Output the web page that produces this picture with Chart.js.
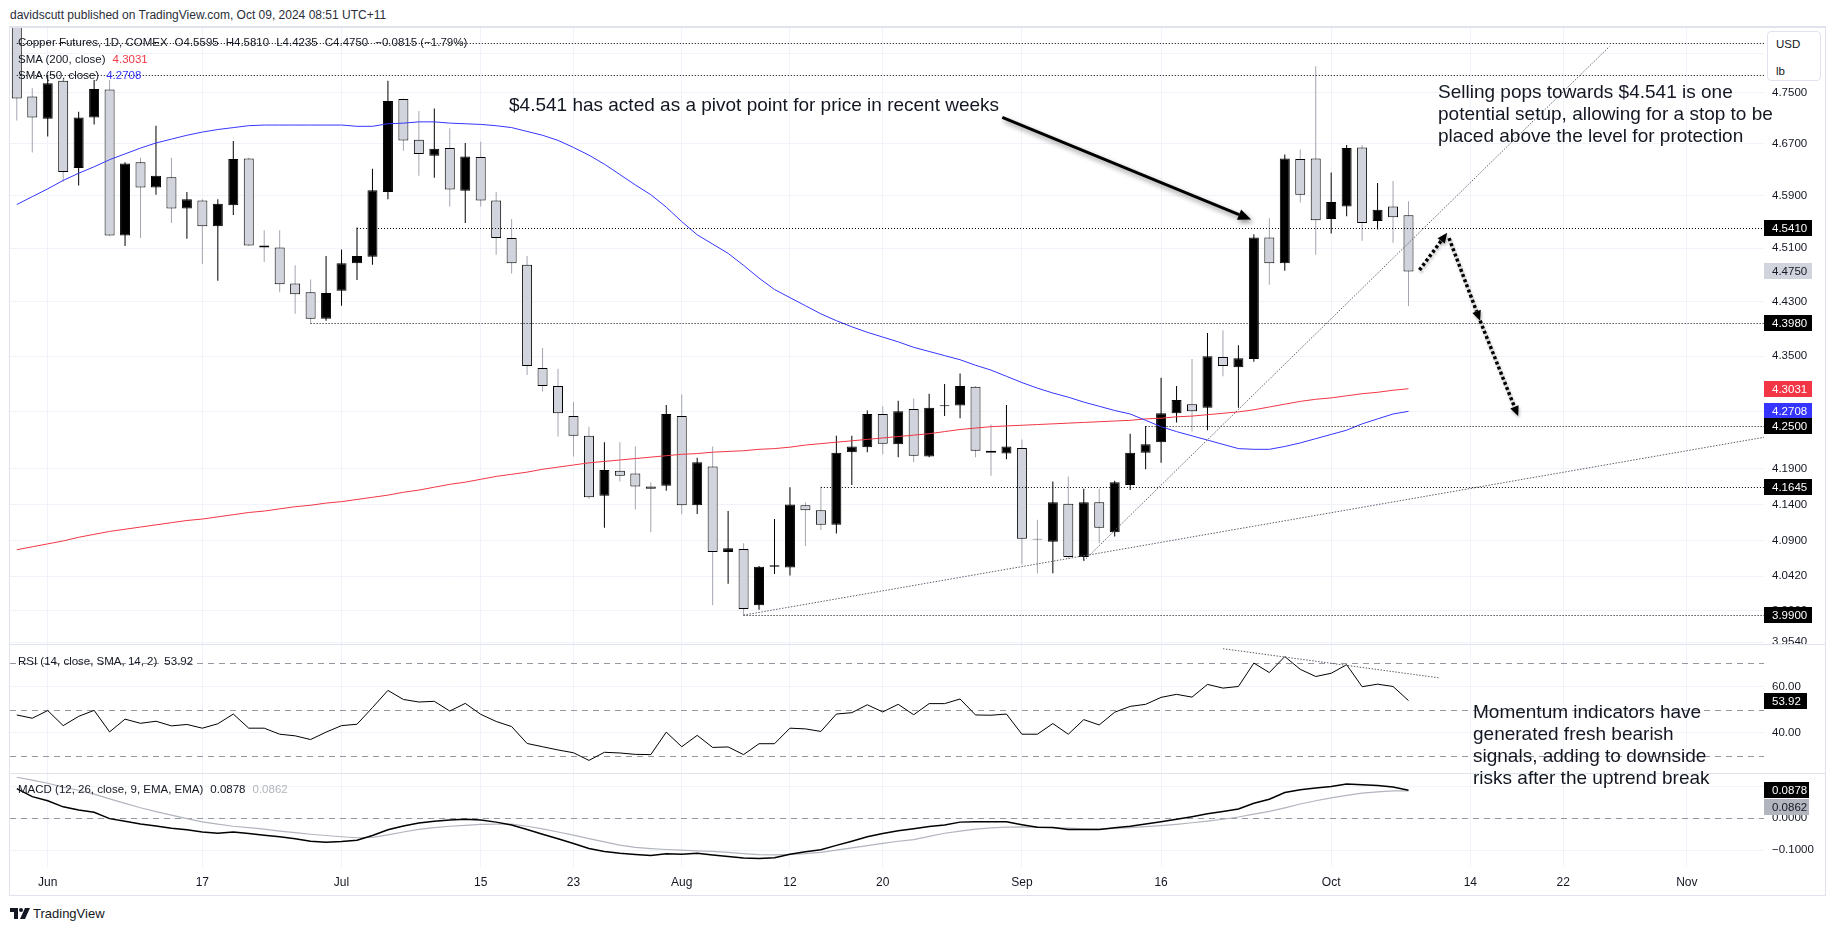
<!DOCTYPE html>
<html>
<head>
<meta charset="utf-8">
<title>Copper Futures, 1D, COMEX</title>
<script src="https://cdn.jsdelivr.net/npm/chart.js"></script>
<style>
  html, body { margin:0; padding:0; background:#ffffff; }
  body { width:1835px; height:931px; position:relative; overflow:hidden;
         font-family:'Liberation Sans', Arial, Helvetica, sans-serif; color:#131722; }
  .abs { position:absolute; white-space:nowrap; }
  canvas { position:absolute; }
  .sep { position:absolute; left:10px; width:1815px; height:1px; background:#e0e3eb; }
  .legend { font-size:11.5px; line-height:16px; color:#131722; }
  .legend .v { margin-left:7px; }
  .note { font-size:19px; line-height:22px; color:#131722; }
</style>
</head>
<body>
<div class="abs" style="left:10px;top:7px;font-size:12px;line-height:16px;color:#2a2e39">davidscutt published on TradingView.com, Oct 09, 2024 08:51 UTC+11</div>
<div style="position:absolute;left:9px;top:26px;width:1815px;height:867px;border:1px solid #e0e3eb;border-top-width:2px;"></div>

<canvas id="cMain" width="1815" height="616" style="left:10px;top:28px"></canvas>
<div class="sep" style="top:644px"></div>
<canvas id="cRsi" width="1815" height="128" style="left:10px;top:645px"></canvas>
<div class="sep" style="top:773px"></div>
<canvas id="cMacd" width="1815" height="121" style="left:10px;top:774px"></canvas>

<div id="lgMain" class="abs legend" style="left:18px;top:34px"></div>
<div id="lgS200" class="abs legend" style="left:18px;top:51px"></div>
<div id="lgS50" class="abs legend" style="left:18px;top:67px"></div>
<div id="lgRsi" class="abs legend" style="left:18px;top:653px"></div>
<div id="lgMacd" class="abs legend" style="left:18px;top:781px"></div>

<div class="abs note" style="left:509px;top:94px">$4.541 has acted as a pivot point for price in recent weeks</div>
<div class="abs note" style="left:1438px;top:81px">Selling pops towards $4.541 is one<br>potential setup, allowing for a stop to be<br>placed above the level for protection</div>
<div class="abs note" style="left:1473px;top:701px">Momentum indicators have<br>generated fresh bearish<br>signals, adding to downside<br>risks after the uptrend break</div>

<div style="position:absolute;left:1767px;top:31px;width:52px;height:48px;border:1px solid #e0e3eb;border-radius:4px;background:#fff;font-size:11.5px;color:#131722;">
  <div class="abs" style="left:8px;top:4px;line-height:16px">USD</div>
  <div class="abs" style="left:8px;top:31px;line-height:16px">lb</div>
</div>

<div class="abs" style="left:10px;top:905px;height:16px;display:flex;align-items:center;font-size:13px;color:#131722">
  <svg width="20" height="11" viewBox="0 0 20 11" style="margin-right:3px">
    <path d="M0 0 H8 V11 H4 V4 H0 Z" fill="#131722"/>
    <circle cx="11" cy="2" r="2" fill="#131722"/>
    <path d="M15 0 H20 L15 11 H10 Z" fill="#131722"/>
  </svg><span>TradingView</span>
</div>

<script>
const FONT = "'Liberation Sans', Arial, Helvetica, sans-serif";

// ---- categories (trading sessions) ----
const dates = [
 '2024-05-30','2024-05-31','2024-06-03','2024-06-04','2024-06-05','2024-06-06','2024-06-07',
 '2024-06-10','2024-06-11','2024-06-12','2024-06-13','2024-06-14','2024-06-17','2024-06-18',
 '2024-06-20','2024-06-21','2024-06-24','2024-06-25','2024-06-26','2024-06-27','2024-06-28',
 '2024-07-01','2024-07-02','2024-07-03','2024-07-05','2024-07-08','2024-07-09','2024-07-10',
 '2024-07-11','2024-07-12','2024-07-15','2024-07-16','2024-07-17','2024-07-18','2024-07-19',
 '2024-07-22','2024-07-23','2024-07-24','2024-07-25','2024-07-26','2024-07-29','2024-07-30',
 '2024-07-31','2024-08-01','2024-08-02','2024-08-05','2024-08-06','2024-08-07','2024-08-08',
 '2024-08-09','2024-08-12','2024-08-13','2024-08-14','2024-08-15','2024-08-16','2024-08-19',
 '2024-08-20','2024-08-21','2024-08-22','2024-08-23','2024-08-26','2024-08-27','2024-08-28',
 '2024-08-29','2024-08-30','2024-09-03','2024-09-04','2024-09-05','2024-09-06','2024-09-09',
 '2024-09-10','2024-09-11','2024-09-12','2024-09-13','2024-09-16','2024-09-17','2024-09-18',
 '2024-09-19','2024-09-20','2024-09-23','2024-09-24','2024-09-25','2024-09-26','2024-09-27',
 '2024-09-30','2024-10-01','2024-10-02','2024-10-03','2024-10-04','2024-10-07','2024-10-08'
];

// ---- OHLC series ----
const open = [4.875,4.744,4.709,4.769,4.632,4.711,4.755,4.529,4.641,4.602,
 4.618,4.570,4.582,4.543,4.575,4.647,4.514,4.511,4.457,4.444,
 4.405,4.446,4.487,4.497,4.595,4.740,4.676,4.651,4.663,4.597,
 4.649,4.582,4.525,4.485,4.333,4.307,4.264,4.236,4.152,4.187,
 4.183,4.165,4.166,4.264,4.139,4.193,4.075,4.079,4.003,4.055,
 4.054,4.139,4.132,4.112,4.213,4.220,4.267,4.224,4.274,4.207,
 4.278,4.279,4.306,4.215,4.211,4.219,4.093,4.089,4.141,4.068,
 4.143,4.102,4.167,4.212,4.227,4.268,4.281,4.276,4.349,4.334,
 4.346,4.526,4.487,4.646,4.647,4.554,4.573,4.664,4.551,4.573,4.5595];
const high = [4.890,4.757,4.778,4.770,4.720,4.770,4.770,4.641,4.648,4.698,
 4.648,4.595,4.584,4.584,4.674,4.648,4.537,4.537,4.484,4.463,
 4.498,4.508,4.541,4.631,4.769,4.741,4.721,4.725,4.694,4.671,
 4.673,4.595,4.554,4.498,4.362,4.332,4.284,4.249,4.227,4.227,
 4.221,4.171,4.280,4.295,4.205,4.221,4.131,4.087,4.056,4.120,
 4.164,4.143,4.1645,4.236,4.236,4.272,4.278,4.286,4.289,4.296,
 4.310,4.325,4.307,4.252,4.280,4.231,4.119,4.172,4.179,4.162,
 4.162,4.173,4.239,4.250,4.319,4.307,4.346,4.384,4.388,4.366,
 4.531,4.555,4.653,4.661,4.792,4.625,4.668,4.668,4.609,4.612,4.5810];
const low = [4.706,4.656,4.681,4.611,4.605,4.700,4.528,4.513,4.525,4.591,
 4.548,4.524,4.486,4.461,4.560,4.513,4.489,4.444,4.412,4.398,
 4.402,4.424,4.462,4.485,4.584,4.659,4.620,4.617,4.573,4.548,
 4.573,4.500,4.472,4.323,4.299,4.235,4.207,4.148,4.108,4.172,
 4.133,4.102,4.159,4.127,4.127,4.003,4.032,3.990,3.997,4.045,
 4.043,4.083,4.105,4.100,4.167,4.213,4.210,4.206,4.199,4.206,
 4.264,4.261,4.206,4.180,4.203,4.058,4.046,4.046,4.066,4.063,
 4.087,4.096,4.160,4.189,4.198,4.255,4.242,4.244,4.321,4.276,
 4.342,4.455,4.476,4.579,4.500,4.532,4.558,4.521,4.538,4.518,4.4235];
const close = [4.741,4.711,4.765,4.626,4.711,4.756,4.529,4.639,4.602,4.620,
 4.570,4.584,4.543,4.577,4.646,4.514,4.511,4.456,4.441,4.405,
 4.443,4.487,4.498,4.598,4.737,4.675,4.654,4.662,4.599,4.650,
 4.582,4.525,4.487,4.336,4.307,4.268,4.236,4.150,4.188,4.180,
 4.165,4.162,4.267,4.139,4.199,4.075,4.080,3.998,4.055,4.057,
 4.140,4.132,4.112,4.212,4.221,4.267,4.225,4.271,4.208,4.276,
 4.2795,4.307,4.215,4.212,4.221,4.093,4.092,4.143,4.068,4.143,
 4.108,4.171,4.212,4.224,4.268,4.287,4.271,4.350,4.336,4.347,
 4.526,4.487,4.647,4.591,4.552,4.580,4.663,4.548,4.568,4.5565,4.4750];

// ---- moving averages ----
const sma200 = [4.078,4.082,4.086,4.090,4.095,4.099,4.103,4.106,4.109,4.112,
 4.115,4.118,4.120,4.123,4.126,4.129,4.131,4.134,4.137,4.139,
 4.142,4.144,4.147,4.150,4.153,4.157,4.160,4.164,4.168,4.171,
 4.175,4.179,4.182,4.185,4.189,4.192,4.195,4.198,4.200,4.202,
 4.204,4.206,4.208,4.210,4.211,4.213,4.214,4.215,4.217,4.218,
 4.220,4.223,4.225,4.227,4.229,4.231,4.233,4.235,4.237,4.239,
 4.242,4.245,4.247,4.249,4.250,4.251,4.252,4.253,4.254,4.255,
 4.256,4.257,4.258,4.260,4.261,4.263,4.264,4.266,4.268,4.270,
 4.273,4.277,4.281,4.285,4.288,4.290,4.293,4.296,4.298,4.301,4.3031];
const sma50 = [4.576,4.588,4.600,4.613,4.624,4.634,4.645,4.654,4.663,4.671,
 4.677,4.683,4.688,4.692,4.695,4.698,4.699,4.699,4.699,4.699,
 4.699,4.699,4.697,4.697,4.701,4.702,4.704,4.704,4.702,4.701,
 4.700,4.698,4.695,4.689,4.683,4.675,4.664,4.652,4.638,4.622,
 4.606,4.591,4.572,4.550,4.530,4.516,4.502,4.484,4.465,4.448,
 4.436,4.424,4.412,4.402,4.393,4.385,4.378,4.371,4.363,4.357,
 4.351,4.345,4.337,4.330,4.321,4.312,4.304,4.297,4.291,4.284,
 4.278,4.272,4.267,4.258,4.249,4.242,4.236,4.230,4.224,4.218,
 4.217,4.217,4.221,4.226,4.232,4.238,4.244,4.253,4.260,4.267,4.2708];

// ---- oscillators ----
const rsi = [47.7,46.3,49.6,43.1,47.1,49.7,40.4,45.9,44.1,45.0,
 43.0,43.6,42.0,43.9,48.1,42.0,42.0,39.4,38.7,37.1,
 40.3,43.1,43.7,50.9,58.3,54.4,53.3,53.6,49.4,52.7,
 48.0,44.9,42.7,35.4,34.0,32.6,31.4,28.1,31.6,31.3,
 30.7,30.6,40.3,34.0,38.9,33.7,33.9,30.6,35.3,35.3,
 42.0,41.7,40.6,48.1,48.7,52.1,49.0,52.3,47.8,52.6,
 52.6,54.6,47.7,47.6,48.1,39.4,39.4,44.0,39.4,45.7,
 43.4,48.9,51.4,52.3,55.3,56.6,55.4,60.9,59.3,60.0,
 70.1,66.0,72.9,67.4,64.3,65.7,69.4,59.9,61.0,60.0,53.92];
const macd = [0.093,0.068,0.055,0.036,0.026,0.019,-0.001,-0.009,-0.018,-0.024,
 -0.031,-0.036,-0.043,-0.047,-0.043,-0.048,-0.053,-0.058,-0.064,-0.072,
 -0.075,-0.073,-0.069,-0.054,-0.036,-0.024,-0.015,-0.009,-0.005,-0.003,
 -0.005,-0.012,-0.021,-0.035,-0.050,-0.064,-0.079,-0.095,-0.104,-0.110,
 -0.114,-0.117,-0.111,-0.113,-0.110,-0.115,-0.120,-0.125,-0.126,-0.124,
 -0.113,-0.105,-0.099,-0.085,-0.072,-0.058,-0.048,-0.039,-0.033,-0.026,
 -0.021,-0.012,-0.011,-0.011,-0.011,-0.020,-0.028,-0.029,-0.035,-0.035,
 -0.035,-0.030,-0.025,-0.018,-0.011,-0.003,0.005,0.014,0.021,0.029,
 0.047,0.060,0.081,0.090,0.095,0.100,0.108,0.105,0.103,0.098,0.0878];
const signal = [0.129,0.120,0.110,0.098,0.088,0.076,0.061,0.047,0.033,0.021,
 0.010,-0.001,-0.011,-0.018,-0.025,-0.029,-0.034,-0.040,-0.045,-0.050,
 -0.054,-0.058,-0.061,-0.060,-0.052,-0.043,-0.035,-0.029,-0.025,-0.022,
 -0.019,-0.018,-0.018,-0.025,-0.033,-0.043,-0.053,-0.064,-0.074,-0.084,
 -0.091,-0.095,-0.098,-0.100,-0.102,-0.104,-0.107,-0.111,-0.114,-0.115,
 -0.113,-0.111,-0.107,-0.100,-0.093,-0.086,-0.079,-0.072,-0.067,-0.057,
 -0.047,-0.040,-0.034,-0.030,-0.028,-0.027,-0.028,-0.029,-0.031,-0.033,
 -0.034,-0.032,-0.029,-0.026,-0.023,-0.019,-0.014,-0.009,-0.003,0.004,
 0.013,0.022,0.033,0.045,0.055,0.064,0.072,0.079,0.083,0.086,0.0862];

// ---- axis ticks ----
const xTickDates = ['2024-06-03','2024-06-17','2024-07-01','2024-07-15','2024-07-23','2024-08-01','2024-08-12',
 '2024-08-20','2024-09-03','2024-09-16','2024-10-01','2024-10-14','2024-10-22','2024-11-01'];
const xTickLabels = ['Jun','17','Jul','15','23','Aug','12','20','Sep','16','Oct','14','22','Nov'];
const priceTicks = [4.813,4.75,4.67,4.59,4.51,4.43,4.35,4.27,4.19,4.14,4.09,4.042,3.996,3.954];
const rsiTicks = [60,40];
const rsiLevels = [70,50,30];
const macdTicks = [0.1,0,-0.1];

// ---- drawn levels / trend lines / arrows (data space) ----
const levelPrices = [4.830,4.778,4.541,4.398,4.250,4.1645,3.990];
const levelStarts = ['2024-05-30','2024-05-30','2024-07-02','2024-06-27','2024-09-13','2024-08-14','2024-08-07'];
const trendFrom = [['2024-08-07',3.990],['2024-09-09',4.063]];
const trendTo   = [['2024-11-08',4.234],['2024-10-25',4.824]];
const rsiTrendFrom = ['2024-09-20',76.3];
const rsiTrendTo   = ['2024-10-10',63.7];
const pivotArrow = [[63.73,4.711],[79.82,4.553]];
const pathArrows = [[[90.71,4.477],[92.50,4.533]],[[92.62,4.525],[94.63,4.402]],[[94.63,4.402],[97.09,4.264]]];

// ---- helpers ----
function idxOf(d){
  let i = dates.indexOf(d);
  if (i >= 0) return i;
  let cur = new Date(dates[dates.length-1]+'T00:00:00Z');
  const target = new Date(d+'T00:00:00Z');
  i = dates.length-1;
  while (cur < target){
    cur = new Date(cur.getTime()+86400000);
    const wd = cur.getUTCDay();
    if (wd !== 0 && wd !== 6) i++;
  }
  return i;
}
const xTickIdx = xTickDates.map(idxOf);
const X_MIN = -0.44, X_MAX = 112.99;
const MINUS = '\u2212';
const fmt = (v,d) => (v < 0 ? MINUS : '') + Math.abs(v).toFixed(d);

function xScale(show){
  return {
    type:'linear', min:X_MIN, max:X_MAX, offset:false,
    grid:{color:'#f0f3fa', drawTicks:false, offset:false, lineWidth:1},
    border:{display:false},
    ticks:{display:show, autoSkip:false, maxRotation:0, padding:8, color:'#131722',
      font:{size:12, family:FONT},
      callback:(v)=>{ const k = xTickIdx.indexOf(v); return k>=0 ? xTickLabels[k] : ''; }},
    afterBuildTicks(s){ s.ticks = xTickIdx.map(v=>({value:v})); },
    afterFit(s){ s.height = show ? 28 : 0; s.paddingLeft = 0; s.paddingRight = 0; }
  };
}
function yScale(extra, ticks, dec){
  return Object.assign({
    position:'right',
    grid:{color:'#f0f3fa', drawTicks:false},
    border:{display:false},
    ticks:{padding:8, autoSkip:false, color:'#131722', font:{size:11.5, family:FONT},
      callback:(v)=>fmt(Number(v),dec)},
    afterBuildTicks(s){ s.ticks = ticks.map(v=>({value:v})); },
    afterFit(s){ s.width = 61; s.paddingTop = 0; s.paddingBottom = 0; }
  }, extra);
}
function drawBox(ctx, a, py, text, bg, fg, w){
  ctx.save();
  ctx.fillStyle = bg;
  ctx.fillRect(a.right, Math.round(py-8), w, 16);
  ctx.fillStyle = fg;
  ctx.font = '11.5px ' + FONT;
  ctx.textBaseline = 'middle'; ctx.textAlign = 'left';
  ctx.fillText(text, a.right+8, Math.round(py-8)+8.5);
  ctx.restore();
}
function arrow(ctx, x1, y1, x2, y2, width, dash, headLen, headW){
  const ang = Math.atan2(y2-y1, x2-x1);
  const bx = x2 - headLen*Math.cos(ang), by = y2 - headLen*Math.sin(ang);
  ctx.lineWidth = width; ctx.strokeStyle = '#000'; ctx.fillStyle = '#000';
  ctx.setLineDash(dash);
  ctx.beginPath(); ctx.moveTo(x1,y1); ctx.lineTo(bx,by); ctx.stroke();
  ctx.setLineDash([]);
  ctx.beginPath(); ctx.moveTo(x2,y2);
  ctx.lineTo(bx + headW/2*Math.sin(ang), by - headW/2*Math.cos(ang));
  ctx.lineTo(bx - headW/2*Math.sin(ang), by + headW/2*Math.cos(ang));
  ctx.closePath(); ctx.fill();
}
const up = (i) => close[i] >= open[i];

// ---- legends (text from data) ----
(function(){
  const n = close.length;
  const chg = close[n-1]-close[n-2];
  const pct = chg/close[n-2]*100;
  document.getElementById('lgMain').innerHTML =
    'Copper Futures, 1D, COMEX' +
    '<span class="v">O' + open[n-1].toFixed(4) + '</span>' +
    '<span class="v">H' + high[n-1].toFixed(4) + '</span>' +
    '<span class="v">L' + low[n-1].toFixed(4) + '</span>' +
    '<span class="v">C' + close[n-1].toFixed(4) + '</span>' +
    '<span class="v">' + fmt(chg,4) + ' (' + fmt(pct,2) + '%)</span>';
  document.getElementById('lgS200').innerHTML = 'SMA (200, close)<span class="v" style="color:#f23645">' + sma200[n-1].toFixed(4) + '</span>';
  document.getElementById('lgS50').innerHTML = 'SMA (50, close)<span class="v" style="color:#3535ff">' + sma50[n-1].toFixed(4) + '</span>';
  document.getElementById('lgRsi').innerHTML = 'RSI (14, close, SMA, 14, 2)<span class="v">' + rsi[n-1].toFixed(2) + '</span>';
  document.getElementById('lgMacd').innerHTML = 'MACD (12, 26, close, 9, EMA, EMA)<span class="v">' + macd[n-1].toFixed(4) +
    '</span><span class="v" style="color:#b2b5be">' + signal[n-1].toFixed(4) + '</span>';
})();

const baseOpts = {
  responsive:false, animation:false, devicePixelRatio:1, events:[],
  layout:{padding:0},
  plugins:{legend:{display:false}, tooltip:{enabled:false}}
};

// ---- main price pane ----
const mainOverlay = {
  id:'mainOverlay',
  afterDatasetsDraw(chart){
    const {ctx, chartArea:a, scales:{x, y}} = chart;
    ctx.save();
    ctx.beginPath(); ctx.rect(a.left, a.top, a.right-a.left, a.bottom-a.top); ctx.clip();
    // horizontal levels
    ctx.strokeStyle = '#000'; ctx.lineWidth = 1; ctx.setLineDash([1,2]);
    levelPrices.forEach((p,k)=>{
      const py = Math.round(y.getPixelForValue(p)) + 0.5;
      const px = x.getPixelForValue(idxOf(levelStarts[k]));
      ctx.beginPath(); ctx.moveTo(px, py); ctx.lineTo(a.right, py); ctx.stroke();
    });
    // trend lines
    ctx.strokeStyle = '#5d606b'; ctx.lineWidth = 1; ctx.setLineDash([1.5,1.5]);
    trendFrom.forEach((f,k)=>{
      const t = trendTo[k];
      ctx.beginPath();
      ctx.moveTo(x.getPixelForValue(idxOf(f[0])), y.getPixelForValue(f[1]));
      ctx.lineTo(x.getPixelForValue(idxOf(t[0])), y.getPixelForValue(t[1]));
      ctx.stroke();
    });
    // solid annotation arrow with shadow
    ctx.save();
    ctx.shadowColor = 'rgba(0,0,0,0.45)'; ctx.shadowBlur = 5; ctx.shadowOffsetX = 2; ctx.shadowOffsetY = 3;
    arrow(ctx, x.getPixelForValue(pivotArrow[0][0]), y.getPixelForValue(pivotArrow[0][1]),
               x.getPixelForValue(pivotArrow[1][0]), y.getPixelForValue(pivotArrow[1][1]), 3, [], 13, 11);
    ctx.restore();
    // dotted path arrows
    ctx.save();
    ctx.shadowColor = 'rgba(0,0,0,0.3)'; ctx.shadowBlur = 3; ctx.shadowOffsetX = 1; ctx.shadowOffsetY = 2;
    ctx.lineCap = 'butt';
    pathArrows.forEach(pa=>{
      arrow(ctx, x.getPixelForValue(pa[0][0]), y.getPixelForValue(pa[0][1]),
                 x.getPixelForValue(pa[1][0]), y.getPixelForValue(pa[1][1]), 3.5, [3,2.5], 10, 9);
    });
    ctx.restore();
    ctx.restore();
  },
  afterDraw(chart){
    const {ctx, chartArea:a, scales:{y}} = chart;
    const n = close.length;
    const boxes = [
      [levelPrices[2], '#000000', '#ffffff'],
      [close[n-1], '#d1d4dc', '#131722'],
      [levelPrices[3], '#000000', '#ffffff'],
      [sma200[n-1], '#f23645', '#ffffff'],
      [sma50[n-1], '#3535ff', '#ffffff'],
      [levelPrices[4], '#000000', '#ffffff'],
      [levelPrices[5], '#000000', '#ffffff'],
      [levelPrices[6], '#000000', '#ffffff']
    ];
    boxes.forEach(b=> drawBox(ctx, a, y.getPixelForValue(b[0]), b[0].toFixed(4), b[1], b[2], 48));
  }
};

new Chart(document.getElementById('cMain'), {
  type:'bar',
  data:{ datasets:[
    { type:'line', label:'SMA 50', order:0,
      data: sma50.map((v,i)=>({x:i, y:v})), borderColor:'#3535ff', borderWidth:1,
      pointRadius:0, tension:0, fill:false },
    { type:'line', label:'SMA 200', order:0,
      data: sma200.map((v,i)=>({x:i, y:v})), borderColor:'#f23645', borderWidth:1,
      pointRadius:0, tension:0, fill:false },
    { label:'Body', order:1, grouped:false, barThickness:10, inflateAmount:0,
      data: dates.map((d,i)=>({x:i, y:[open[i], close[i]]})),
      backgroundColor:(c)=> up(c.dataIndex) ? '#000000' : '#d1d4dc',
      borderColor:'#000000', borderWidth:1, borderSkipped:false },
    { label:'Wick', order:2, grouped:false, barThickness:1, inflateAmount:0,
      data: dates.map((d,i)=>({x:i, y:[low[i], high[i]]})),
      backgroundColor:(c)=> up(c.dataIndex) ? '#000000' : '#a3a6af',
      borderWidth:0 }
  ]},
  options: Object.assign({}, baseOpts, {
    scales:{
      x: xScale(false),
      y: yScale({type:'logarithmic', min:3.9517, max:4.8537}, priceTicks, 4)
    }
  }),
  plugins:[mainOverlay]
});

// ---- RSI pane ----
const rsiOverlay = {
  id:'rsiOverlay',
  beforeDatasetsDraw(chart){
    const {ctx, chartArea:a, scales:{y}} = chart;
    ctx.save();
    ctx.strokeStyle = '#9598a1'; ctx.lineWidth = 1; ctx.setLineDash([6,5]);
    rsiLevels.forEach(v=>{
      const py = Math.round(y.getPixelForValue(v)) + 0.5;
      ctx.beginPath(); ctx.moveTo(a.left, py); ctx.lineTo(a.right, py); ctx.stroke();
    });
    ctx.restore();
  },
  afterDatasetsDraw(chart){
    const {ctx, scales:{x, y}} = chart;
    ctx.save();
    ctx.strokeStyle = '#5d606b'; ctx.lineWidth = 1; ctx.setLineDash([1.5,1.5]);
    ctx.beginPath();
    ctx.moveTo(x.getPixelForValue(idxOf(rsiTrendFrom[0])), y.getPixelForValue(rsiTrendFrom[1]));
    ctx.lineTo(x.getPixelForValue(idxOf(rsiTrendTo[0])), y.getPixelForValue(rsiTrendTo[1]));
    ctx.stroke();
    ctx.restore();
  },
  afterDraw(chart){
    const {ctx, chartArea:a, scales:{y}} = chart;
    const v = rsi[rsi.length-1];
    drawBox(ctx, a, y.getPixelForValue(v), v.toFixed(2), '#000000', '#ffffff', 43);
  }
};
new Chart(document.getElementById('cRsi'), {
  type:'line',
  data:{ datasets:[{ data: rsi.map((v,i)=>({x:i, y:v})), borderColor:'#000000', borderWidth:1,
    pointRadius:0, tension:0, fill:false }]},
  options: Object.assign({}, baseOpts, {
    scales:{ x: xScale(false), y: yScale({type:'linear', min:22.66, max:77.9}, rsiTicks, 2) }
  }),
  plugins:[rsiOverlay]
});

// ---- MACD pane ----
const macdOverlay = {
  id:'macdOverlay',
  beforeDatasetsDraw(chart){
    const {ctx, chartArea:a, scales:{y}} = chart;
    ctx.save();
    ctx.strokeStyle = '#9598a1'; ctx.lineWidth = 1; ctx.setLineDash([6,5]);
    const py = Math.round(y.getPixelForValue(0)) + 0.5;
    ctx.beginPath(); ctx.moveTo(a.left, py); ctx.lineTo(a.right, py); ctx.stroke();
    ctx.restore();
  },
  afterDraw(chart){
    const {ctx, chartArea:a, scales:{y}} = chart;
    const m = macd[macd.length-1], s = signal[signal.length-1];
    const p1 = y.getPixelForValue(m);
    const p2 = Math.max(y.getPixelForValue(s), p1 + 16.5);
    drawBox(ctx, a, p2, s.toFixed(4), '#b2b5be', '#131722', 45);
    drawBox(ctx, a, p1, m.toFixed(4), '#000000', '#ffffff', 45);
  }
};
new Chart(document.getElementById('cMacd'), {
  type:'line',
  data:{ datasets:[
    { data: macd.map((v,i)=>({x:i, y:v})), borderColor:'#000000', borderWidth:1.5,
      pointRadius:0, tension:0, fill:false, order:0 },
    { data: signal.map((v,i)=>({x:i, y:v})), borderColor:'#b2b5be', borderWidth:1.2,
      pointRadius:0, tension:0, fill:false, order:1 }
  ]},
  options: Object.assign({}, baseOpts, {
    scales:{ x: xScale(true), y: yScale({type:'linear', min:-0.1529, max:0.1391}, macdTicks, 4) }
  }),
  plugins:[macdOverlay]
});
</script>
</body>
</html>
